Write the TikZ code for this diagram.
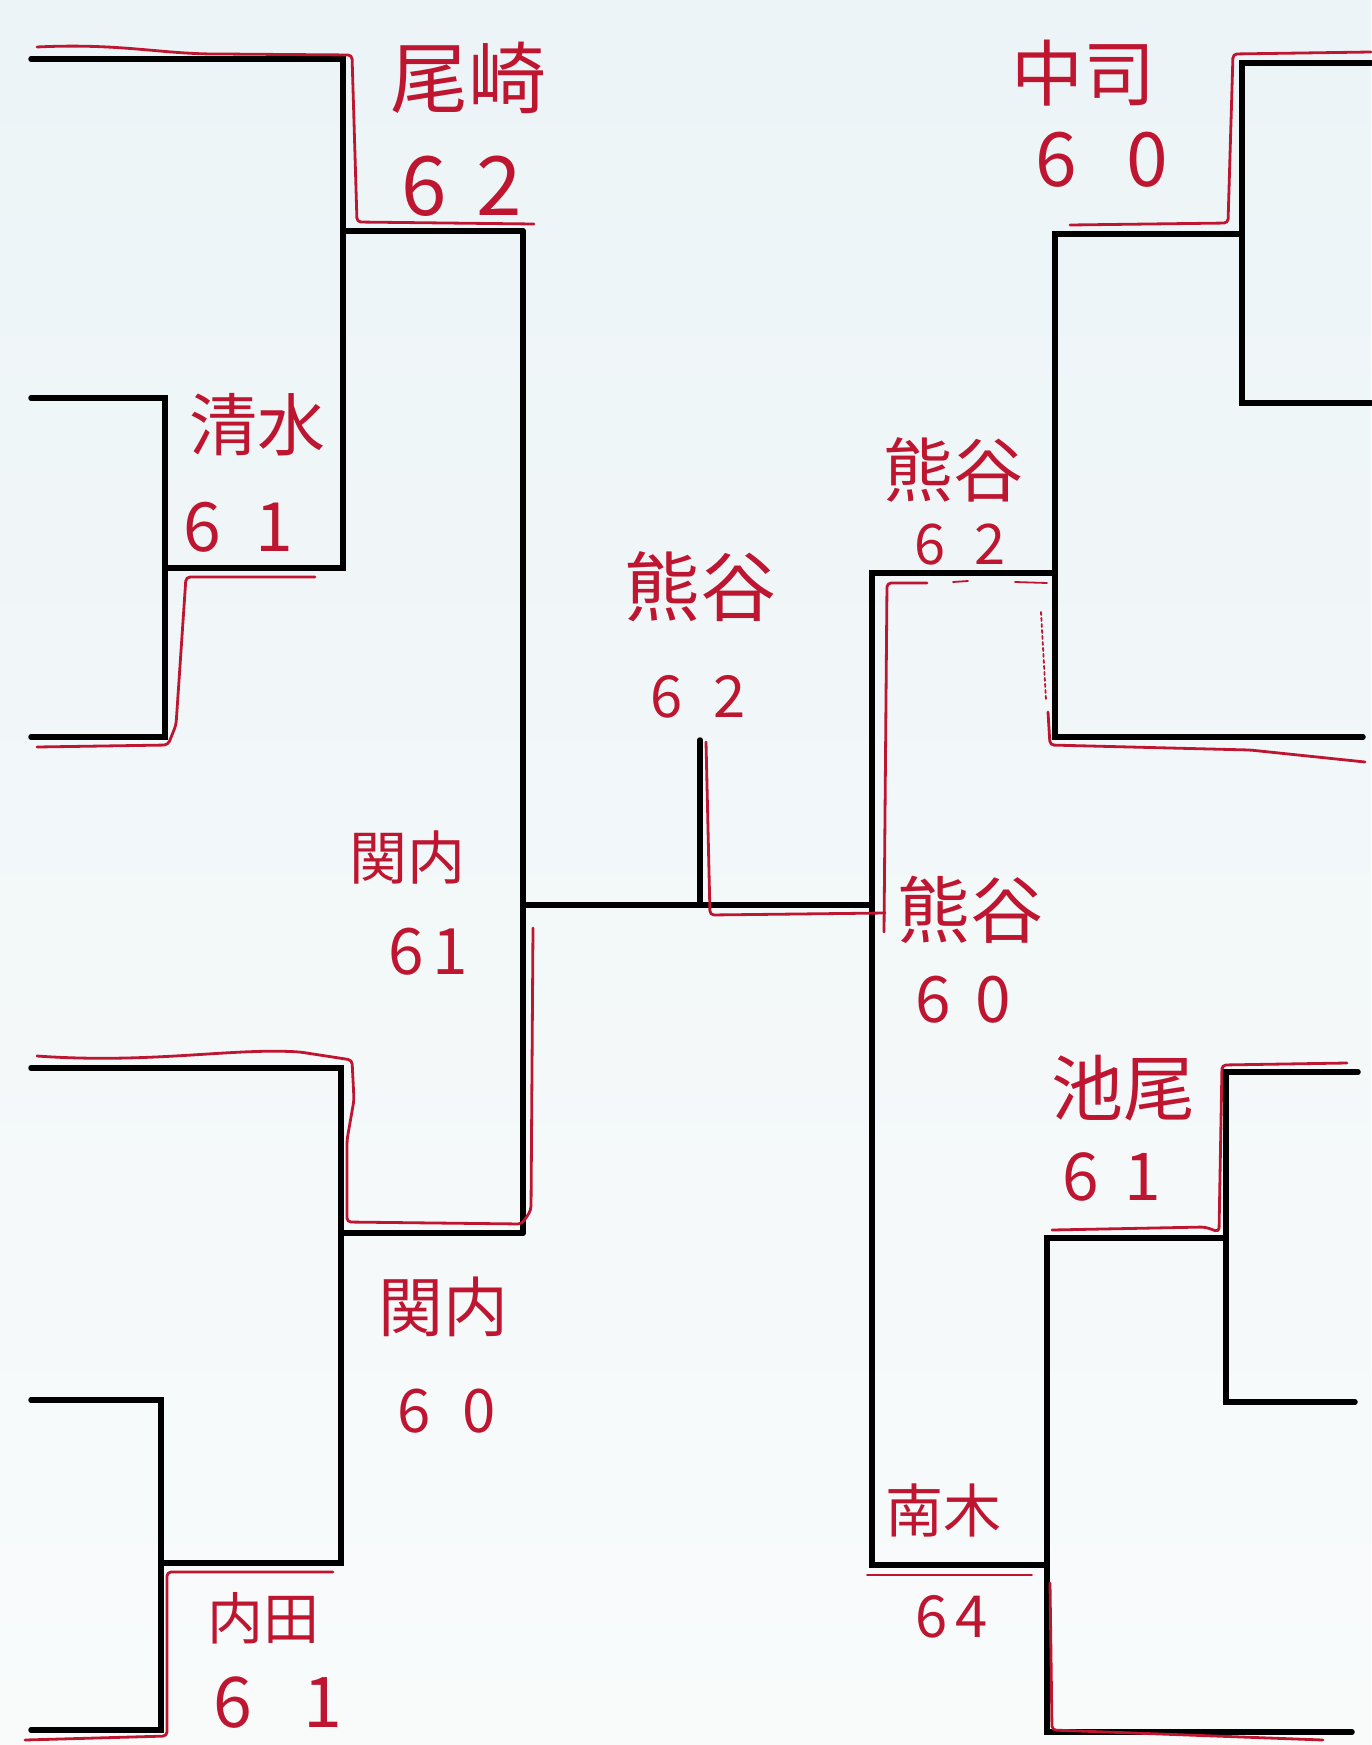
\documentclass[tikz,border=0pt]{standalone}
\usepackage{fontspec}
\newfontfamily\jp{Noto Sans CJK JP}
\definecolor{inkred}{RGB}{190,22,48}
\definecolor{bgtop}{RGB}{236,244,247}
\definecolor{bgbot}{RGB}{249,251,251}
\newcommand{\myfs}[1]{\fontsize{#1}{#1}\selectfont}
\begin{document}
\begin{tikzpicture}[x=1pt,y=-1pt,
  bk/.style={line width=5.5pt, black, line cap=round, line join=miter},
  rd/.style={line width=2.8pt, inkred, line cap=round, line join=round, rounded corners=4pt},
  rdd/.style={rd, line width=1.8pt},
  lab/.style={text=inkred, inner sep=0pt, anchor=center}]
\shade[top color=bgtop, bottom color=bgbot] (0,0) rectangle (1371,1745);
\useasboundingbox (0,0) rectangle (1371,1745);
% ---- black bracket, left half
\draw[bk] (31,59) -- (343,59) -- (343,568) -- (165,568);
\draw[bk] (343,231) -- (523,231);
\draw[bk] (31,398) -- (165,398) -- (165,737) -- (31,737);
\draw[bk] (523,231) -- (523,1233);
\draw[bk] (523,905) -- (872,905);
\draw[bk] (700,740) -- (700,905);
\draw[bk] (31,1068) -- (341,1068) -- (341,1563) -- (161,1563);
\draw[bk] (341,1233) -- (523,1233);
\draw[bk] (31,1400) -- (161,1400) -- (161,1730) -- (31,1730);
% ---- black bracket, right half
\draw[bk] (1055,573) -- (872,573) -- (872,1565) -- (1047,1565);
\draw[bk] (1242,234) -- (1055,234) -- (1055,737) -- (1363,737);
\draw[bk] (1371,63) -- (1242,63) -- (1242,403) -- (1371,403);
\draw[bk] (1226,1238) -- (1047,1238) -- (1047,1732) -- (1352,1732);
\draw[bk] (1358,1072) -- (1226,1072) -- (1226,1402) -- (1355,1402);
% ---- red winner paths
\draw[rd] (37,47) .. controls (120,43) and (160,54) .. (220,54) -- (352,55) -- (357,222) -- (534,224);
\draw[rd] (315,577) -- (186,577) -- (176,725) -- (168,745) -- (37,747);
\draw[rd] (37,1056) .. controls (150,1064) and (230,1048) .. (300,1052) -- (352,1060) -- (354,1100) -- (347,1140) -- (347,1222) -- (522,1224) -- (531,1210) -- (533,928);
\draw[rd] (333,1572) -- (167,1572) -- (167,1736) -- (25,1740);
\draw[rd] (706,742) -- (710,915) -- (885,913);
\draw[rd] (884,932) -- (887,583) -- (927,583);
\draw[rdd] (953,582) -- (968,581);
\draw[rdd] (1015,582) -- (1047,583);
\draw[rdd, dashed] (1041,612) -- (1046,700);
\draw[rd] (1048,712) -- (1050,745) -- (1250,750) -- (1365,762);
\draw[rd] (1371,52) -- (1233,54) -- (1228,223) -- (1070,225);
\draw[rd] (1052,1230) -- (1205,1227) -- (1219,1232) -- (1222,1065) -- (1347,1063);
\draw[rdd] (867,1575) -- (1032,1575);
\draw[rd] (1050,1583) -- (1052,1730) -- (1323,1740);
% ---- labels
\node[lab, font=\jp\myfs{78}] (n1) at (468,78) {尾崎};
\node[lab, font=\jp\myfs{82}] (s1) at (462,186) {6\hspace{30pt}2};
\node[lab, font=\jp\myfs{68}] (n2) at (257,425) {清水};
\node[lab, font=\jp\myfs{68}] (s2) at (238,527) {6\hspace{34pt}1};
\node[lab, font=\jp\myfs{58}] (n3) at (407,858) {関内};
\node[lab, font=\jp\myfs{64}] (s3) at (428,952) {6\hspace{8pt}1};
\node[lab, font=\jp\myfs{65}] (n4) at (443,1307) {関内};
\node[lab, font=\jp\myfs{60}] (s4) at (447,1411) {6\hspace{32pt}0};
\node[lab, font=\jp\myfs{56}] (n5) at (263,1618) {内田};
\node[lab, font=\jp\myfs{70}] (s5) at (278,1703) {6\hspace{52pt}1};
\node[lab, font=\jp\myfs{76}] (n6) at (700,587) {熊谷};
\node[lab, font=\jp\myfs{58}] (s6) at (698,697) {6\hspace{31pt}2};
\node[lab, font=\jp\myfs{72}] (n7) at (1083,73) {中司};
\node[lab, font=\jp\myfs{75}] (s7) at (1102,160) {6\hspace{49pt}0};
\node[lab, font=\jp\myfs{70}] (n8) at (953,470) {熊谷};
\node[lab, font=\jp\myfs{56}] (s8) at (960,545) {6\hspace{29pt}2};
\node[lab, font=\jp\myfs{73}] (n9) at (970,910) {熊谷};
\node[lab, font=\jp\myfs{64}] (s9) at (963,1000) {6\hspace{24pt}0};
\node[lab, font=\jp\myfs{72}] (n10) at (1123,1088) {池尾};
\node[lab, font=\jp\myfs{66}] (s10) at (1112,1177) {6\hspace{25pt}1};
\node[lab, font=\jp\myfs{58}] (n11) at (943,1510) {南木};
\node[lab, font=\jp\myfs{58}] (s11) at (952,1617) {6\hspace{8pt}4};
\end{tikzpicture}
\end{document}
